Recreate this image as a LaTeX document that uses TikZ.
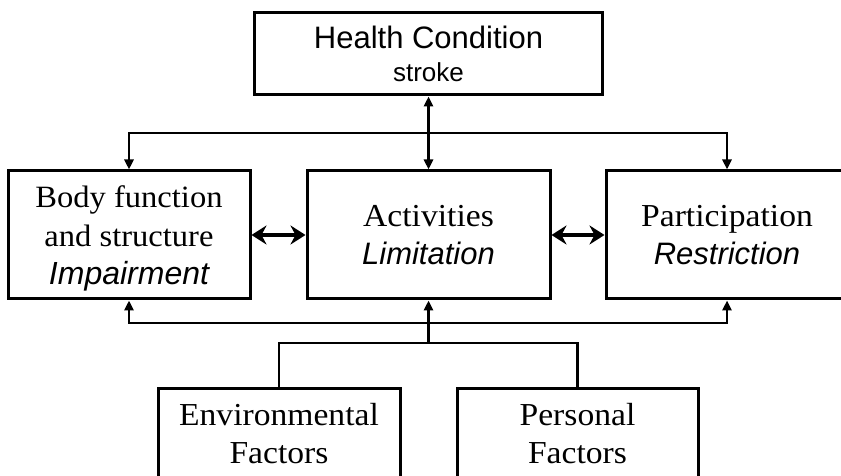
\documentclass[tikz,border=0pt]{standalone}
\usepackage{fontspec}
\setmainfont{Liberation Sans}
\newfontfamily\serifx[FakeStretch=1.05]{Liberation Serif}
\usetikzlibrary{arrows.meta}
\tikzset{
  box/.style={draw=black, line width=3pt, inner sep=0pt, align=center, fill=white},
  serifbox/.style={box, font=\serifx\fontsize{32}{38}\selectfont},
  conn/.style={line width=2.5pt},
  arr/.style={conn, -{Triangle[length=10pt,width=9pt]}},
  darr/.style={conn, {Triangle[length=10pt,width=9pt]}-{Triangle[length=10pt,width=9pt]}},
  dbl/.style={line width=3.5pt, {Stealth[length=15pt,width=19pt,inset=5pt]}-{Stealth[length=15pt,width=19pt,inset=5pt]}},
}
\begin{document}
\begin{tikzpicture}[x=1pt,y=1pt]
\useasboundingbox (0,0) rectangle (841,476);
\clip (0,0) rectangle (841,476);
\fill[white] (0,0) rectangle (841,476);
% boxes
\node[box, font=\fontsize{31}{33}\selectfont, minimum width=348pt, minimum height=82pt] (hc) at (428.5,422)
  {Health Condition\\ {\fontsize{26}{33}\selectfont stroke}};
\node[box, font=\serifx\fontsize{31}{38.5}\selectfont, minimum width=242pt, minimum height=128pt] (bf) at (129,241)
  {\rule{0pt}{29pt}Body function\\ and structure\\ {\rmfamily\itshape\fontsize{32}{38.5}\selectfont Impairment}};
\node[serifbox, minimum width=243pt, minimum height=128pt] (ac) at (428.5,241)
  {Activities\\ {\rmfamily\itshape\fontsize{31}{38}\selectfont Limitation}};
\node[serifbox, minimum width=242pt, minimum height=128pt] (pa) at (727,241)
  {Participation\\ {\rmfamily\itshape\fontsize{31}{38}\selectfont Restriction}};
\node[serifbox, minimum width=242pt, minimum height=90pt] (en) at (279,42)
  {Environmental\\ Factors};
\node[serifbox, minimum width=241pt, minimum height=90pt] (pe) at (577.5,42)
  {Personal\\ Factors};
% junctions
\coordinate (tj) at (428.5,343);
\coordinate (bj) at (428.5,153);
\coordinate (lj) at (428.5,133);
% connectors
\draw[darr] (hc.south) -- (ac.north);
\draw[arr] (tj) -| (bf.north);
\draw[arr] (tj) -| (pa.north);
\draw[arr] (bj) -| (bf.south);
\draw[arr] (bj) -| (pa.south);
\draw[arr] (lj) -- (ac.south);
\draw[conn] (lj) -| (en.north);
\draw[conn] (lj) -| (pe.north);
\draw[dbl] (bf.east) -- (ac.west);
\draw[dbl] (ac.east) -- (pa.west);
\end{tikzpicture}
\end{document}
